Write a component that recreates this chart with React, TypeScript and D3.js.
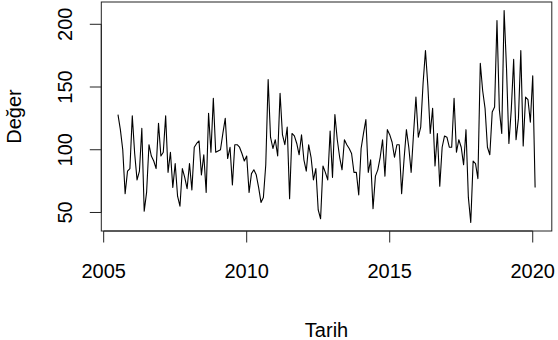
import React, { useEffect, useRef } from "react";
import * as d3 from "d3";

// monthly series, July 2005 .. Feb 2020
const startYear = 2005;
const startMonth = 7;
const values = [
  128, 116, 100, 65, 83, 85, 127, 97, 76, 83, 117, 51,
  66, 104, 95, 91, 85, 121, 95, 98, 127, 82, 98, 70,
  89, 63, 55, 85, 78, 69, 89, 68, 102, 105, 107, 80,
  96, 66, 129, 98, 141, 98, 99, 100, 113, 125, 93, 102,
  72, 104, 104, 102, 97, 91, 95, 66, 81, 84, 80, 70,
  58, 62, 88, 156, 110, 101, 108, 95, 145, 112, 104, 118,
  61, 113, 111, 105, 96, 112, 92, 83, 104, 94, 76, 85,
  52, 45, 87, 82, 76, 115, 78, 128, 108, 94, 84, 108,
  104, 101, 97, 82, 82, 64, 101, 113, 124, 82, 92, 53,
  79, 84, 94, 108, 79, 116, 112, 106, 94, 104, 104, 65,
  92, 116, 102, 82, 113, 142, 110, 118, 153, 179, 151, 113,
  133, 87, 113, 71, 102, 111, 110, 102, 102, 141, 98, 108,
  102, 88, 116, 62, 42, 91, 89, 77, 169, 147, 133, 102,
  96, 130, 134, 203, 132, 113, 211, 165, 105, 132, 172, 108,
  125, 179, 103, 142, 140, 122, 159, 70,
];
const xTicks = [2005, 2010, 2015, 2020];
const yTicks = [50, 100, 150, 200];
const xLabel = "Tarih";
const yLabel = "Değer";

const App = () => {
  const ref = useRef<SVGSVGElement>(null);

  useEffect(() => {
    const svg = d3.select(ref.current);
    svg.selectAll("*").remove();

    const left = 101.3;
    const right = 551.8;
    const top = 2;
    const bottom = 231;
    const font = "Liberation Sans, Arial, Helvetica, sans-serif";
    const fs = 20;

    const times = values.map((_, i) => startYear + (startMonth - 1 + i) / 12);

    // R style 4% padding
    const [t0, t1] = d3.extent(times) as [number, number];
    const [v0, v1] = d3.extent(values) as [number, number];
    const tp = (t1 - t0) * 0.04;
    const vp = (v1 - v0) * 0.04;

    const x = d3.scaleLinear().domain([t0 - tp, t1 + tp]).range([left, right]);
    const y = d3.scaleLinear().domain([v0 - vp, v1 + vp]).range([bottom, top]);

    const line = d3
      .line<number>()
      .x((d, i) => x(times[i]))
      .y((d) => y(d));

    svg
      .append("path")
      .datum(values)
      .attr("fill", "none")
      .attr("stroke", "#000")
      .attr("stroke-width", 1.1)
      .attr("stroke-linejoin", "round")
      .attr("d", line);

    // box
    svg
      .append("rect")
      .attr("x", left)
      .attr("y", top)
      .attr("width", right - left)
      .attr("height", bottom - top)
      .attr("fill", "none")
      .attr("stroke", "#222")
      .attr("stroke-width", 1);

    // x axis
    const gx = svg.append("g").attr("stroke", "#222");
    gx.append("line")
      .attr("x1", x(xTicks[0]))
      .attr("x2", x(xTicks[xTicks.length - 1]))
      .attr("y1", bottom)
      .attr("y2", bottom);
    gx.selectAll("line.tick")
      .data(xTicks)
      .join("line")
      .attr("class", "tick")
      .attr("x1", (d) => x(d))
      .attr("x2", (d) => x(d))
      .attr("y1", bottom)
      .attr("y2", bottom + 11.5);
    svg
      .append("g")
      .selectAll("text")
      .data(xTicks)
      .join("text")
      .attr("x", (d) => x(d))
      .attr("y", 278)
      .attr("text-anchor", "middle")
      .attr("font-family", font)
      .attr("font-size", fs)
      .text((d) => d);

    // y axis
    const gy = svg.append("g").attr("stroke", "#222");
    gy.append("line")
      .attr("x1", left)
      .attr("x2", left)
      .attr("y1", y(yTicks[0]))
      .attr("y2", y(yTicks[yTicks.length - 1]));
    gy.selectAll("line.tick")
      .data(yTicks)
      .join("line")
      .attr("class", "tick")
      .attr("x1", left)
      .attr("x2", left - 11.5)
      .attr("y1", (d) => y(d))
      .attr("y2", (d) => y(d));
    svg
      .append("g")
      .selectAll("text")
      .data(yTicks)
      .join("text")
      .attr("transform", (d) => `translate(71.7, ${y(d)}) rotate(-90)`)
      .attr("text-anchor", "middle")
      .attr("font-family", font)
      .attr("font-size", fs)
      .text((d) => d);

    // titles
    svg
      .append("text")
      .attr("x", (left + right) / 2)
      .attr("y", 337)
      .attr("text-anchor", "middle")
      .attr("font-family", font)
      .attr("font-size", fs)
      .text(xLabel);

    svg
      .append("text")
      .attr("transform", `translate(21, ${(top + bottom) / 2}) rotate(-90)`)
      .attr("text-anchor", "middle")
      .attr("font-family", font)
      .attr("font-size", fs)
      .text(yLabel);
  }, []);

  return (
    <svg
      ref={ref}
      width={558}
      height={340}
      style={{ position: "absolute", left: 0, top: 0, background: "#fff" }}
    ></svg>
  );
};

export default App;
